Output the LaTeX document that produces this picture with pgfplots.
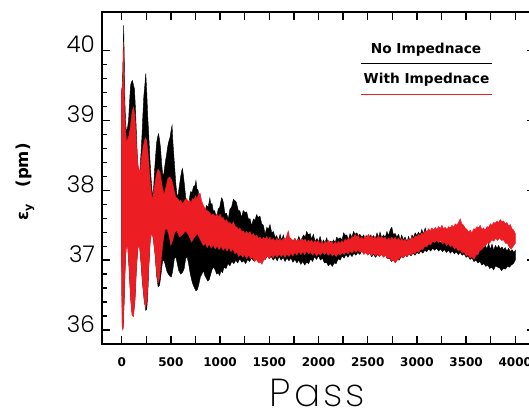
\documentclass[border=0pt]{standalone}
\usepackage{fontspec}
\setmainfont{DejaVu Sans}
\newfontfamily\idlfont{DejaVu Sans}
\newfontfamily\thinfont{Poppins}[UprightFont={* Light}]
\newfontfamily\xthinfont{Poppins}[UprightFont={* ExtraLight}]
\usepackage{pgfplots}
\usepackage{pgfplotstable}
\pgfplotsset{compat=1.18}
\usepgfplotslibrary{fillbetween}
\definecolor{idlred}{RGB}{236,30,36}

% envelopes of the emittance bands
\pgfplotstableread{
x y
0 39.42
8 39.50
14 39.9
20 40.36
26 39.9
32 39.3
40 38.95
50 38.83
60 38.9
70 39.0
80 39.26
90 39.5
100 39.55
110 39.57
120 39.5
130 39.45
140 39.17
150 38.8
160 38.45
170 38.2
176 38.07
185 38.26
195 38.5
205 38.75
215 39.07
225 39.35
235 39.5
245 39.67
255 39.4
265 39.05
275 38.8
285 38.5
295 38.25
305 38.05
315 37.9
325 38.05
335 38.3
345 38.5
355 38.68
365 38.76
375 38.81
385 38.72
395 38.6
405 38.4
415 38.25
425 38.2
435 38.31
445 38.42
455 38.5
465 38.6
475 38.68
490 38.75
505 38.88
512 38.93
520 38.7
530 38.5
540 38.3
550 38.1
560 37.95
570 37.9
580 38.0
590 38.1
600 38.2
610 38.28
618 38.31
628 38.2
640 38.05
650 37.9
660 37.8
670 37.75
680 37.8
690 37.9
700 37.98
715 37.97
730 38.05
745 38.07
755 38.14
765 38.02
777 38.0
790 37.82
800 37.8
811 37.73
825 37.75
845 37.68
860 37.78
879 37.76
896 37.89
905 37.8
918 37.81
930 37.71
945 37.71
964 37.59
980 37.73
995 37.75
1015 37.89
1025 37.87
1035 37.81
1049 37.66
1065 37.67
1083 37.59
1100 37.73
1117 37.76
1135 37.87
1151 37.85
1165 37.83
1185 37.71
1200 37.71
1219 37.61
1235 37.71
1253 37.68
1270 37.69
1287 37.59
1305 37.59
1321 37.49
1338 37.59
1355 37.57
1370 37.65
1389 37.61
1405 37.63
1423 37.52
1440 37.5
1457 37.37
1475 37.47
1490 37.44
1507 37.51
1525 37.39
1541 37.41
1560 37.32
1575 37.35
1592 37.28
1610 37.37
1625 37.29
1643 37.36
1660 37.27
1680 37.31
1700 37.27
1720 37.3
1740 37.27
1760 37.31
1780 37.26
1800 37.34
1820 37.27
1846 37.36
1865 37.33
1880 37.41
1897 37.36
1915 37.38
1930 37.3
1948 37.37
1965 37.27
1985 37.31
2000 37.26
2016 37.34
2035 37.24
2050 37.29
2065 37.25
2084 37.32
2100 37.22
2120 37.27
2135 37.24
2152 37.29
2170 37.25
2185 37.33
2200 37.3
2220 37.32
2240 37.29
2255 37.39
2270 37.36
2288 37.36
2305 37.28
2320 37.38
2340 37.33
2356 37.41
2372 37.37
2390 37.39
2405 37.35
2420 37.37
2440 37.33
2460 37.36
2475 37.27
2490 37.35
2507 37.28
2525 37.36
2540 37.32
2560 37.35
2575 37.3
2595 37.39
2610 37.31
2625 37.4
2643 37.32
2660 37.36
2680 37.33
2695 37.41
2711 37.35
2730 37.44
2745 37.47
2760 37.37
2780 37.38
2796 37.33
2815 37.37
2830 37.28
2845 37.36
2863 37.29
2880 37.33
2900 37.26
2915 37.34
2931 37.27
2950 37.36
2965 37.32
2982 37.39
3000 37.35
3015 37.4
3033 37.36
3050 37.44
3065 37.37
3084 37.46
3100 37.39
3118 37.43
3135 37.36
3150 37.39
3170 37.3
3186 37.35
3205 37.27
3220 37.31
3240 37.24
3254 37.29
3270 37.25
3290 37.33
3305 37.25
3322 37.32
3340 37.24
3360 37.33
3375 37.25
3389 37.32
3410 37.23
3425 37.3
3440 37.22
3457 37.29
3475 37.21
3490 37.28
3510 37.19
3525 37.27
3545 37.18
3560 37.23
3580 37.15
3593 37.22
3610 37.17
3625 37.2
3640 37.16
3661 37.21
3680 37.17
3695 37.21
3712 37.16
3729 37.24
3745 37.15
3763 37.23
3780 37.14
3797 37.21
3815 37.17
3830 37.21
3847 37.16
3864 37.19
3880 37.15
3898 37.18
3915 37.13
3932 37.17
3950 37.12
3966 37.15
3985 37.11
4000 37.14
}\blackup

\pgfplotstableread{
x y
0 36.95
5 36.1
15 36.05
25 36.4
35 36.9
45 37.2
60 37.25
75 36.9
90 36.5
105 36.25
120 36.24
135 36.45
150 36.9
165 37.2
180 37.25
195 37.0
210 36.7
230 36.42
245 36.28
255 36.3
265 36.5
275 36.9
290 37.3
305 37.42
320 37.33
340 37.08
355 36.78
370 36.62
385 36.64
400 36.8
415 36.98
430 37.0
445 36.92
460 36.84
475 36.8
490 36.77
505 36.76
520 36.86
535 37.02
550 37.05
565 36.95
580 36.85
600 36.8
620 36.83
635 36.88
650 37.02
665 37.05
680 36.95
695 36.82
710 36.72
725 36.65
740 36.6
755 36.56
770 36.58
785 36.66
800 36.76
815 36.8
830 36.85
845 36.78
860 36.74
875 36.7
890 36.72
905 36.8
920 36.87
935 36.9
950 36.86
965 36.8
980 36.82
995 36.78
1010 36.85
1025 36.82
1040 36.9
1060 36.88
1080 36.95
1100 36.92
1120 36.98
1140 36.95
1160 37.0
1180 36.96
1200 37.02
1220 36.97
1240 36.99
1260 36.95
1280 37.01
1300 36.98
1320 37.03
1340 36.99
1360 37.04
1380 37.0
1400 37.05
1420 37.0
1440 37.04
1460 37.01
1480 37.06
1500 37.02
1520 37.05
1540 37.0
1560 37.04
1580 36.99
1600 37.05
1620 37.0
1640 37.04
1660 36.98
1680 37.03
1700 36.99
1720 37.03
1740 36.97
1760 37.01
1780 36.96
1800 37.0
1820 36.94
1840 36.98
1860 36.93
1880 36.97
1900 36.95
1920 37.02
1940 36.98
1960 37.05
1980 37.01
2000 37.06
2020 37.0
2040 37.03
2060 36.96
2080 36.97
2100 36.92
2120 36.95
2140 36.91
2160 36.96
2180 36.95
2200 37.02
2220 37.0
2240 37.06
2260 37.03
2280 37.08
2300 37.04
2320 37.09
2340 37.05
2360 37.1
2380 37.07
2400 37.11
2420 37.08
2440 37.13
2460 37.1
2480 37.14
2500 37.09
2520 37.1
2540 37.05
2560 37.08
2580 37.04
2600 37.08
2620 37.05
2640 37.09
2660 37.05
2680 37.07
2700 37.02
2720 37.03
2740 36.98
2760 37.0
2780 36.97
2800 37.01
2820 37.0
2840 37.05
2860 37.03
2880 37.07
2900 37.05
2920 37.09
2940 37.06
2960 37.1
2980 37.07
3000 37.11
3020 37.09
3040 37.13
3060 37.1
3080 37.14
3100 37.12
3120 37.16
3140 37.13
3160 37.17
3180 37.14
3200 37.17
3220 37.13
3240 37.16
3260 37.12
3280 37.15
3300 37.11
3320 37.14
3340 37.1
3360 37.13
3380 37.09
3400 37.12
3420 37.08
3440 37.11
3460 37.07
3480 37.09
3500 37.04
3520 37.06
3540 37.01
3560 37.03
3580 36.98
3600 37.0
3620 36.96
3640 36.98
3660 36.93
3680 36.95
3700 36.91
3720 36.93
3740 36.88
3760 36.9
3780 36.86
3800 36.92
3820 36.9
3840 36.89
3860 36.85
3880 36.88
3900 36.87
3920 36.91
3940 36.9
3960 36.93
3980 36.95
4000 37.0
}\blacklow

\pgfplotstableread{
x y
0 39.45
6 39.48
12 39.55
20 40.12
26 39.5
32 39.05
40 38.85
50 38.69
60 38.73
75 38.79
90 38.93
105 39.12
120 39.19
135 39.07
150 38.69
160 38.45
170 38.33
185 38.26
200 38.45
220 38.64
240 38.75
255 38.71
270 38.5
290 38.12
310 37.86
330 38.02
350 38.21
370 38.3
390 38.26
410 38.07
430 37.93
450 38.05
470 38.17
490 38.19
510 38.14
530 38.02
550 37.9
570 37.88
585 37.84
600 37.86
615 37.8
630 37.83
645 37.87
660 37.88
675 37.84
690 37.86
705 37.82
720 37.88
735 37.86
750 37.92
765 37.88
780 37.94
797 37.96
810 37.86
831 37.78
848 37.74
865 37.71
880 37.7
899 37.67
915 37.64
930 37.66
950 37.62
965 37.66
985 37.62
1000 37.66
1015 37.6
1030 37.61
1049 37.56
1065 37.58
1083 37.53
1100 37.54
1117 37.5
1135 37.55
1151 37.49
1170 37.47
1185 37.44
1202 37.46
1220 37.41
1235 37.42
1253 37.38
1270 37.41
1287 37.37
1304 37.41
1320 37.35
1338 37.38
1355 37.34
1372 37.36
1390 37.31
1406 37.33
1423 37.29
1440 37.33
1457 37.3
1475 37.34
1490 37.28
1507 37.33
1525 37.28
1541 37.31
1558 37.27
1575 37.31
1592 37.28
1609 37.31
1625 37.27
1643 37.31
1660 37.29
1677 37.35
1693 37.42
1705 37.33
1727 37.3
1745 37.27
1760 37.31
1778 37.26
1795 37.3
1812 37.27
1830 37.31
1846 37.28
1865 37.3
1880 37.25
1897 37.29
1914 37.26
1930 37.29
1948 37.24
1965 37.28
1982 37.25
2000 37.28
2016 37.23
2035 37.27
2050 37.22
2068 37.27
2084 37.24
2100 37.28
2118 37.25
2135 37.27
2152 37.22
2170 37.26
2186 37.23
2203 37.27
2220 37.24
2237 37.28
2254 37.25
2270 37.3
2288 37.27
2305 37.32
2322 37.29
2340 37.34
2356 37.32
2372 37.37
2390 37.33
2405 37.36
2420 37.3
2440 37.33
2455 37.29
2473 37.35
2490 37.32
2507 37.37
2525 37.32
2540 37.35
2558 37.3
2575 37.34
2592 37.3
2609 37.35
2626 37.31
2643 37.34
2660 37.3
2677 37.33
2694 37.28
2711 37.32
2728 37.29
2745 37.33
2762 37.29
2779 37.33
2796 37.28
2813 37.32
2830 37.27
2846 37.31
2863 37.27
2880 37.3
2897 37.26
2914 37.3
2931 37.28
2948 37.33
2965 37.3
2982 37.35
3000 37.33
3016 37.37
3033 37.35
3050 37.39
3067 37.37
3084 37.42
3101 37.4
3118 37.45
3135 37.42
3152 37.46
3169 37.43
3186 37.47
3203 37.44
3220 37.48
3237 37.45
3254 37.5
3271 37.45
3288 37.47
3305 37.44
3322 37.48
3339 37.46
3356 37.5
3373 37.47
3389 37.52
3406 37.5
3423 37.54
3440 37.59
3457 37.52
3474 37.5
3491 37.46
3508 37.44
3525 37.4
3542 37.43
3559 37.39
3576 37.45
3593 37.44
3610 37.48
3627 37.46
3643 37.5
3660 37.44
3677 37.46
3695 37.43
3712 37.48
3729 37.47
3746 37.52
3763 37.5
3780 37.54
3797 37.53
3814 37.56
3830 37.54
3847 37.58
3864 37.55
3881 37.56
3898 37.52
3915 37.54
3932 37.49
3949 37.51
3966 37.45
3983 37.43
4000 37.38
}\redup

\pgfplotstableread{
x y
0 36.93
4 36.05
10 36.0
16 36.02
22 36.3
30 36.65
40 37.05
48 37.18
60 37.21
75 36.88
90 36.45
105 36.21
120 36.19
135 36.4
150 36.88
165 37.17
180 37.21
195 36.98
210 36.69
230 36.4
245 36.32
260 36.45
275 36.88
290 37.26
305 37.4
320 37.31
340 37.07
355 36.81
370 36.67
385 36.74
400 36.98
420 37.26
440 37.43
460 37.45
480 37.36
500 37.21
520 37.29
540 37.4
560 37.42
590 37.33
620 37.37
650 37.42
680 37.36
710 37.26
740 37.33
770 37.38
800 37.29
830 37.21
850 37.24
870 37.18
890 37.23
910 37.17
930 37.22
950 37.16
970 37.2
990 37.15
1010 37.2
1030 37.14
1050 37.18
1070 37.13
1090 37.18
1110 37.12
1130 37.16
1150 37.09
1170 37.12
1190 37.05
1210 37.09
1230 37.04
1250 37.08
1270 37.02
1290 37.07
1310 37.02
1330 37.04
1350 36.98
1370 37.01
1390 36.96
1410 36.97
1425 36.94
1440 36.99
1460 37.02
1480 37.06
1500 37.02
1520 37.07
1540 37.03
1560 37.08
1580 37.04
1600 37.09
1620 37.05
1640 37.08
1660 37.04
1680 37.09
1700 37.05
1720 37.1
1740 37.06
1760 37.11
1780 37.07
1800 37.12
1820 37.08
1840 37.12
1860 37.08
1880 37.13
1900 37.09
1920 37.12
1940 37.07
1960 37.11
1980 37.06
2000 37.1
2020 37.07
2040 37.12
2060 37.08
2080 37.11
2100 37.07
2120 37.1
2140 37.06
2160 37.09
2180 37.05
2200 37.1
2220 37.07
2240 37.11
2260 37.08
2280 37.12
2300 37.09
2320 37.13
2340 37.1
2360 37.14
2380 37.11
2400 37.15
2420 37.11
2440 37.13
2460 37.08
2480 37.11
2500 37.07
2520 37.1
2540 37.06
2560 37.1
2580 37.06
2600 37.09
2620 37.05
2640 37.08
2660 37.04
2680 37.07
2700 37.02
2720 37.04
2740 36.99
2760 37.0
2780 36.96
2800 37.0
2820 37.02
2840 37.06
2860 37.03
2880 37.07
2900 37.05
2920 37.09
2940 37.07
2960 37.11
2980 37.09
3000 37.13
3020 37.11
3040 37.16
3060 37.15
3080 37.2
3100 37.19
3120 37.23
3140 37.22
3160 37.27
3180 37.25
3200 37.29
3220 37.25
3240 37.28
3260 37.23
3280 37.26
3300 37.21
3320 37.24
3340 37.19
3360 37.21
3380 37.16
3400 37.18
3420 37.13
3440 37.15
3460 37.1
3480 37.12
3500 37.06
3520 37.08
3540 37.03
3560 37.05
3580 37.01
3600 37.07
3620 37.08
3640 37.14
3660 37.15
3680 37.2
3700 37.21
3720 37.25
3740 37.24
3760 37.29
3780 37.27
3800 37.31
3820 37.28
3840 37.32
3860 37.28
3880 37.29
3900 37.24
3920 37.24
3940 37.18
3960 37.16
3980 37.2
4000 37.24
}\redlow

\begin{document}
\begin{tikzpicture}
\begin{axis}[
    at={(0pt,0pt)}, anchor=south west,
    scale only axis,
    width=433pt, height=332pt,
    xmin=-200, xmax=4200,
    ymin=35.8, ymax=40.55,
    xtick={0,250,...,4000},
    xticklabels={0,,500,,1000,,1500,,2000,,2500,,3000,,3500,,4000},
    ytick={36,37,38,39,40},
    yticklabels={36,37,38,39,40},
    minor y tick num=4,
    tick align=inside,
    major tick length=8pt,
    minor tick length=4.5pt,
    axis line style={line width=1.6pt},
    every tick/.style={black, line width=1.3pt},
    xticklabel style={anchor=center, yshift=-18.5pt, inner sep=0pt,
        font=\idlfont\bfseries\fontsize{12}{12}\selectfont},
    yticklabel style={anchor=east, inner sep=0pt, xshift=-7pt, yshift=6pt,
        font=\thinfont\fontsize{23}{23}\selectfont},
]
\addplot[draw=none, name path=bu] table {\blackup};
\addplot[draw=none, name path=bl] table {\blacklow};
\addplot[fill=black, draw=black, line width=0.4pt] fill between[of=bu and bl];
\addplot[draw=none, name path=ru] table {\redup};
\addplot[draw=none, name path=rl] table {\redlow};
\addplot[fill=idlred, draw=idlred, line width=0.4pt] fill between[of=ru and rl];
\end{axis}

% legend (IDL style: label over a line)
\node[font=\idlfont\bfseries\fontsize{13.7}{13.7}\selectfont] at (324pt,294pt) {No Impednace};
\draw[black, line width=1.4pt] (259pt,280.7pt) -- (390pt,280.7pt);
\node[font=\idlfont\bfseries\fontsize{13.7}{13.7}\selectfont] at (324.5pt,264pt) {With Impednace};
\draw[idlred, line width=1.4pt] (259pt,249.7pt) -- (390pt,249.7pt);

% axis titles
\node[anchor=base, inner sep=0pt, font=\xthinfont\fontsize{39}{39}\selectfont] at (215.5pt,-62pt) {P\kern3pt a\kern3pt s\kern3pt s};
\node[rotate=90, font=\idlfont\bfseries\fontsize{16.5}{16.5}\selectfont] at (-77pt,162pt)
    {ε\raisebox{-3.5pt}{\fontsize{11}{11}\selectfont y}\hspace{17pt}(pm)};

\pgfresetboundingbox
\useasboundingbox (-102pt,-69pt) rectangle (427pt,344pt);
\end{tikzpicture}
\end{document}
